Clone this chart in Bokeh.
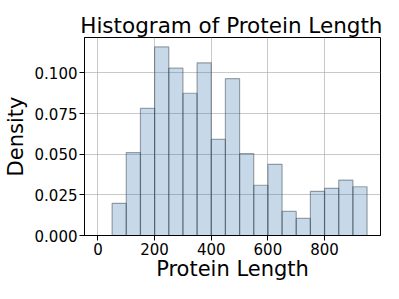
from bokeh.plotting import figure
from bokeh.models import Range1d, FixedTicker, NumeralTickFormatter, ColumnDataSource
from bokeh.embed import file_html
from bokeh.resources import INLINE

bin_left = [50, 100, 150, 200, 250, 300, 350, 400, 450, 500, 550, 600, 650, 700, 750, 800, 850, 900]
bin_right = [100, 150, 200, 250, 300, 350, 400, 450, 500, 550, 600, 650, 700, 750, 800, 850, 900, 950]
density = [0.0198, 0.0510, 0.0782, 0.1160, 0.1029, 0.0875, 0.1062, 0.0591, 0.0965,
           0.0504, 0.0309, 0.0438, 0.0148, 0.0105, 0.0272, 0.0290, 0.0341, 0.0300]
x_ticks = [0, 200, 400, 600, 800]
y_ticks = [0.0, 0.025, 0.05, 0.075, 0.1]

FONT = "DejaVu Sans"

p = figure(width=383, height=283, output_backend="svg", toolbar_location=None,
           x_range=Range1d(-47.5, 997.5), y_range=Range1d(0, 0.1218),
           min_border_left=80, min_border_right=3, min_border_top=37, min_border_bottom=48)

src = ColumnDataSource(dict(left=bin_left, right=bin_right, top=density,
                            bottom=[0] * len(density)))
p.quad(left="left", right="right", top="top", bottom="bottom", source=src,
       fill_color="#4682b4", fill_alpha=0.3, line_color="#2f3b47", line_alpha=0.45, line_width=1.2)

p.title.text = "Histogram of Protein Length"
p.title.text_font = FONT
p.title.text_font_size = "21.5px"
p.title.text_font_style = "normal"
p.title.text_color = "black"
p.title.align = "right"
p.title.offset = -2
p.title.standoff = -1

for ax in (p.xaxis[0], p.yaxis[0]):
    ax.axis_label_text_font = FONT
    ax.axis_label_text_font_size = "21px"
    ax.axis_label_text_font_style = "normal"
    ax.axis_label_text_color = "black"
    ax.major_label_text_font = FONT
    ax.major_label_text_font_size = "15px"
    ax.major_label_text_color = "black"
    ax.minor_tick_line_color = None
    ax.major_tick_in = 0
    ax.major_tick_out = 5
    ax.major_tick_line_color = "black"
    ax.axis_line_color = "black"

p.xaxis.axis_label = "Protein Length"
p.yaxis.axis_label = "Density"
p.xaxis.ticker = FixedTicker(ticks=x_ticks)
p.yaxis.ticker = FixedTicker(ticks=y_ticks)
p.yaxis.formatter = NumeralTickFormatter(format="0.000")
p.xaxis.axis_label_standoff = -1
p.yaxis.axis_label_standoff = 4
p.xaxis.major_label_standoff = 2
p.yaxis.major_label_standoff = 2

p.grid.grid_line_color = "#b0b0b0"
p.grid.grid_line_alpha = 0.7
p.grid.grid_line_width = 1
p.xgrid.ticker = FixedTicker(ticks=x_ticks)
p.ygrid.ticker = FixedTicker(ticks=y_ticks)

p.outline_line_color = "black"
p.outline_line_width = 1
p.outline_line_alpha = 1
p.background_fill_color = "white"
p.border_fill_color = "white"

open("out.html", "w").write(file_html(p, INLINE))
